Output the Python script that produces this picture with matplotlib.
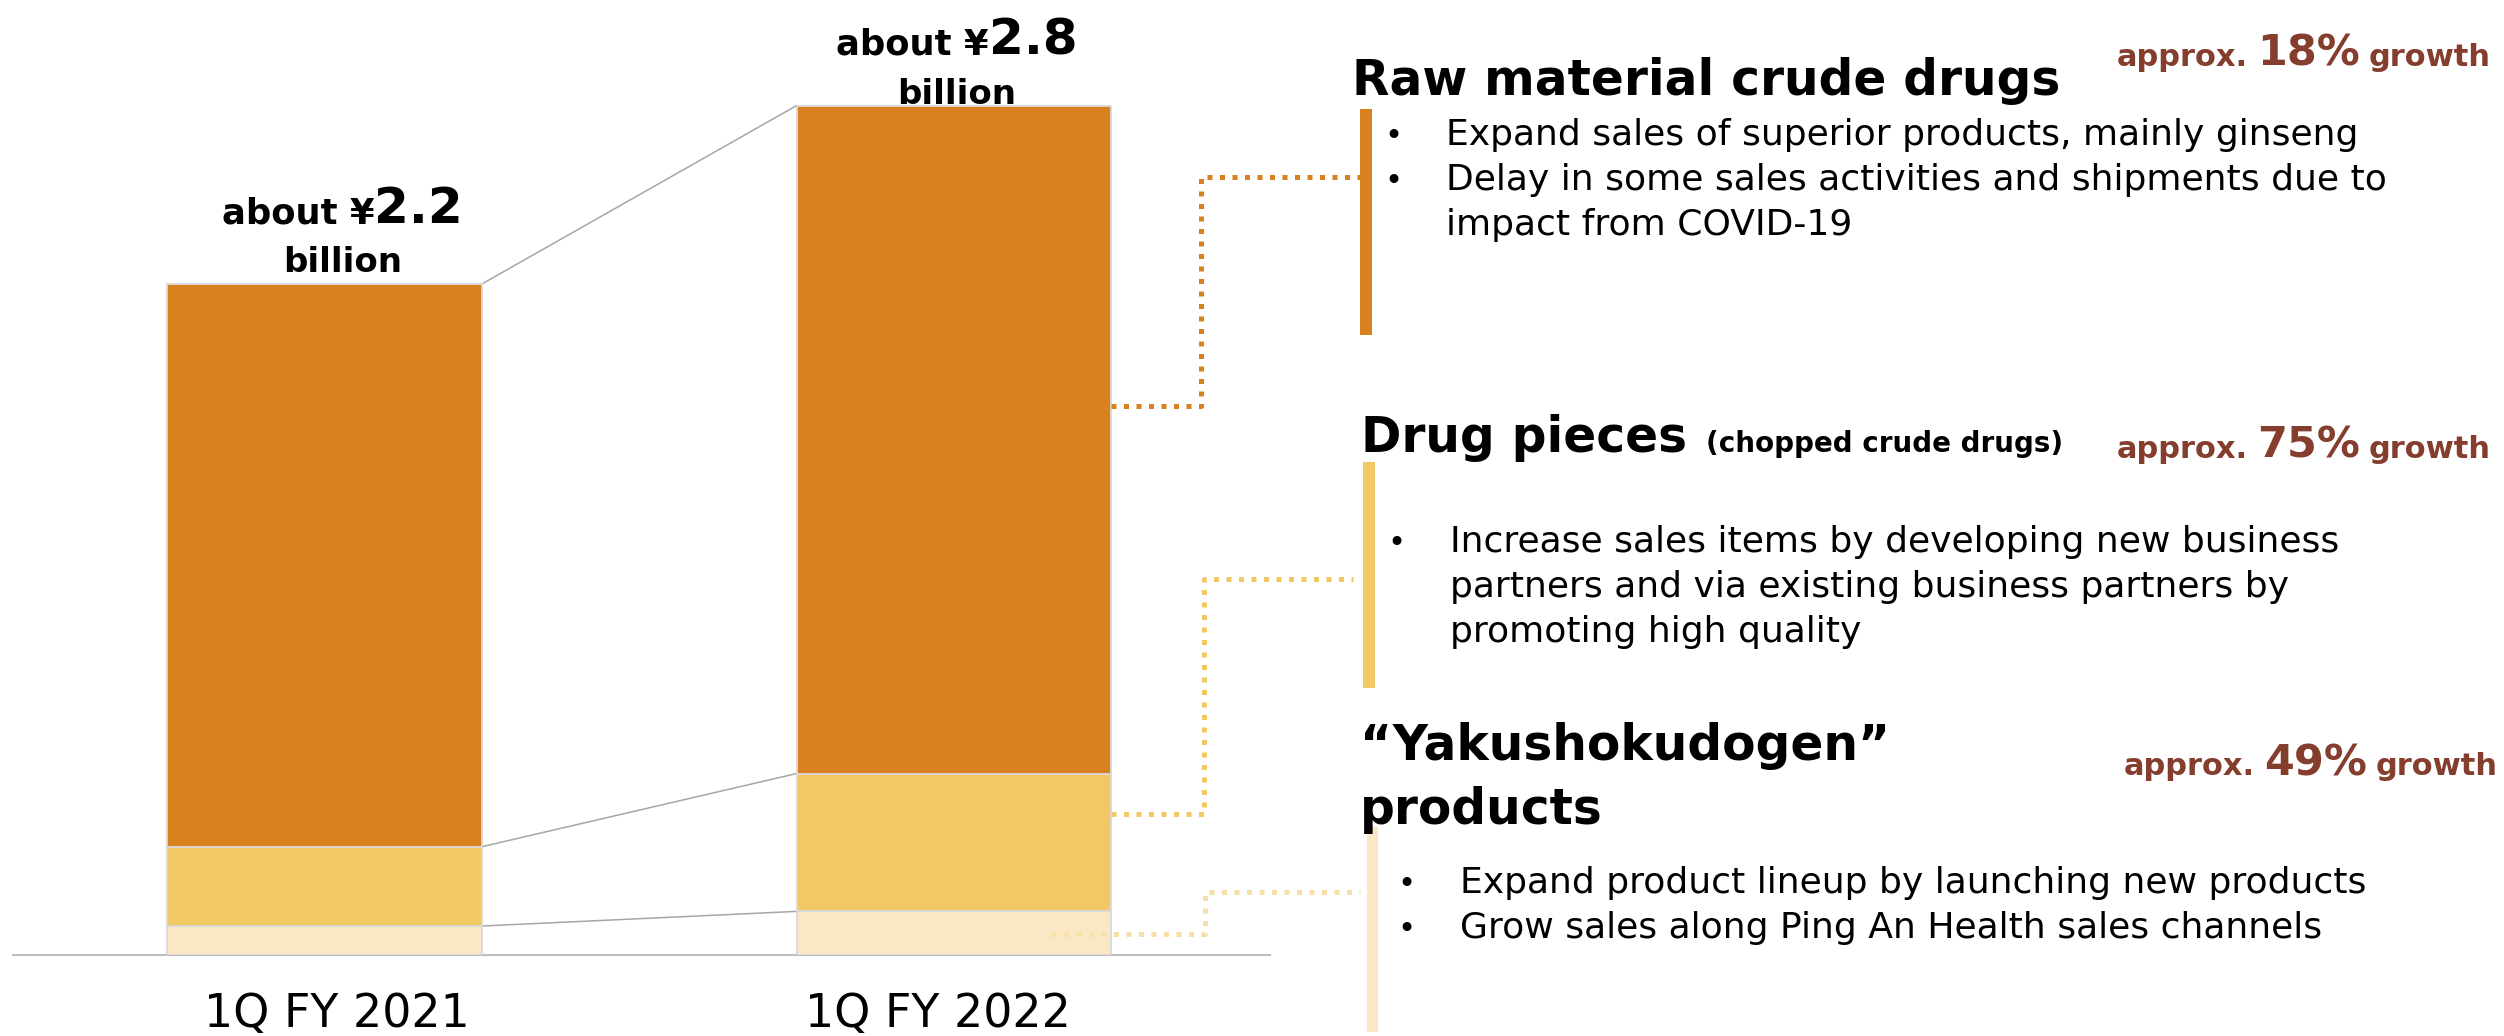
import matplotlib
matplotlib.use("Agg")
import matplotlib.pyplot as plt
from matplotlib.patches import Rectangle
from matplotlib.transforms import offset_copy

W, H = 2504, 1036
DPI = 100

# data (values in billion yen)
periods = ["1Q FY 2021", "1Q FY 2022"]
yakushokudogen = [0.095, 0.143]
drug_pieces = [0.26, 0.452]
raw_material = [1.845, 2.19]
total_labels = ["2.2", "2.8"]

# right-hand panels
raw_title = "Raw material crude drugs"
raw_growth = "18%"
raw_notes = ["Expand sales of superior products, mainly ginseng",
             "Delay in some sales activities and shipments due to",
             "impact from COVID-19"]
pieces_title = "Drug pieces"
pieces_sub = "(chopped crude drugs)"
pieces_growth = "75%"
pieces_notes = ["Increase sales items by developing new business",
                "partners and via existing business partners by",
                "promoting high quality"]
yaku_title = ["\u201cYakushokudogen\u201d", "products"]
yaku_growth = "49%"
yaku_notes = ["Expand product lineup by launching new products",
              "Grow sales along Ping An Health sales channels"]

C_RAW = "#D9801F"
C_PIECES = "#F2C864"
C_YAKU = "#FAE8C4"
C_YAKU_DOT = "#F8DFA8"
C_GROWTH = "#853D2E"
C_EDGE = "#D9D9D9"

fig = plt.figure(figsize=(W / DPI, H / DPI), dpi=DPI)
renderer = fig.canvas.get_renderer()

# bar axes: baseline at y=955px, 305 px per billion
ax = fig.add_axes([13 / W, (H - 955) / H, (1270 - 13) / W, 955 / H])
x = [0, 1]
bw = 0.5
bot2 = [a + b for a, b in zip(yakushokudogen, drug_pieces)]
totals = [a + b for a, b in zip(bot2, raw_material)]
ax.bar(x, yakushokudogen, width=bw, color=C_YAKU, edgecolor=C_EDGE, linewidth=1.3, zorder=3)
ax.bar(x, drug_pieces, width=bw, bottom=yakushokudogen, color=C_PIECES,
       edgecolor=C_EDGE, linewidth=1.3, zorder=3)
ax.bar(x, raw_material, width=bw, bottom=bot2, color=C_RAW,
       edgecolor=C_EDGE, linewidth=1.3, zorder=3)

# grey connectors between segment tops
for lv in (yakushokudogen, bot2, totals):
    ax.plot([x[0] + bw / 2, x[1] - bw / 2], lv, color="#A6A6A6", lw=1.1, zorder=2)

ax.set_xlim(-0.4948, 1.502)
ax.set_ylim(0, 955 / 305)
for s in ("top", "right", "left"):
    ax.spines[s].set_visible(False)
ax.spines["bottom"].set_color("#BFBFBF")
ax.spines["bottom"].set_linewidth(1.5)
ax.set_yticks([])
ax.set_xticks(x)
ax.set_xticklabels(periods, fontsize=33)
ax.tick_params(axis="x", length=0, pad=26.5)
# labels sit slightly off-centre in the original
for lab, dx in zip(ax.get_xticklabels(), [12, -16]):
    lab.set_transform(offset_copy(lab.get_transform(), fig=fig, x=dx, units="dots"))

# overlay in pixel coordinates for annotations
ov = fig.add_axes([0, 0, 1, 1])
ov.set_xlim(0, W)
ov.set_ylim(H, 0)
ov.axis("off")


def text_width(s, size, weight="bold"):
    t = fig.text(0, 0, s, fontsize=size, fontweight=weight)
    w = t.get_window_extent(renderer).width
    t.remove()
    return w


def runs_left(x0, y, runs, color="black", gap=0):
    for s, size in runs:
        ov.text(x0, y, s, fontsize=size, fontweight="bold", color=color,
                ha="left", va="baseline")
        x0 += text_width(s, size) + gap


def runs_right(x1, y, runs, color="black", gap=0):
    for s, size in reversed(runs):
        ov.text(x1, y, s, fontsize=size, fontweight="bold", color=color,
                ha="right", va="baseline")
        x1 -= text_width(s, size) + gap


# total labels above the bars
label_dx = [18, 3]
label_gap = [12, 2]
for i in range(2):
    px, py = ax.transData.transform((x[i], totals[i]))
    cx = px + label_dx[i]
    top = H - py
    runs = [("about \u00a5", 25.5), (total_labels[i], 36)]
    tw = sum(text_width(s, sz) for s, sz in runs)
    runs_left(cx - tw / 2, top - label_gap[i] - 49, runs)
    ov.text(cx, top - label_gap[i], "billion", fontsize=24.5, fontweight="bold",
            ha="center", va="baseline")

# dotted leaders
dot = dict(lw=3.6, linestyle=(0, (1, 1.5)), solid_capstyle="butt")
ov.plot([1111, 1201, 1201, 1360], [406, 406, 177, 177], color=C_RAW, **dot)
ov.plot([1111, 1204, 1204, 1353], [814, 814, 579, 579], color=C_PIECES, **dot)
ov.plot([1051, 1205, 1205, 1360], [934, 934, 892, 892], color=C_YAKU_DOT, **dot)

# colored side bars
ov.add_patch(Rectangle((1360, 109), 12, 226, color=C_RAW, lw=0))
ov.add_patch(Rectangle((1363, 462), 12, 226, color=C_PIECES, lw=0))
ov.add_patch(Rectangle((1367, 827), 11, 205, color=C_YAKU, lw=0))

# headings
ov.text(1352, 95, raw_title, fontsize=35, fontweight="bold", va="baseline")
ov.text(1361, 452, pieces_title, fontsize=35, fontweight="bold", va="baseline")
ov.text(1706, 452, pieces_sub, fontsize=20, fontweight="bold", va="baseline")
ov.text(1360, 760, yaku_title[0], fontsize=35, fontweight="bold", va="baseline")
ov.text(1360, 824, yaku_title[1], fontsize=35, fontweight="bold", va="baseline")

# growth figures
gap = 9
runs_right(2491, 66, [("approx.", 22), (raw_growth, 31), ("growth", 22)], C_GROWTH, gap)
runs_right(2491, 458, [("approx.", 22), (pieces_growth, 31), ("growth", 22)], C_GROWTH, gap)
runs_right(2498, 775, [("approx.", 22), (yaku_growth, 31), ("growth", 22)], C_GROWTH, gap)


def notes(lines, bullets, bx, tx, y0):
    for k, line in enumerate(lines):
        y = y0 + 45 * k
        if bullets[k]:
            ov.text(bx, y, "\u2022", fontsize=22, ha="center", va="baseline")
        ov.text(tx, y, line, fontsize=26, va="baseline")


notes(raw_notes, [True, True, False], 1393, 1446, 145)
notes(pieces_notes, [True, False, False], 1396, 1450, 552)
notes(yaku_notes, [True, True], 1406, 1460, 893)

fig.savefig("out.png", dpi=DPI)
